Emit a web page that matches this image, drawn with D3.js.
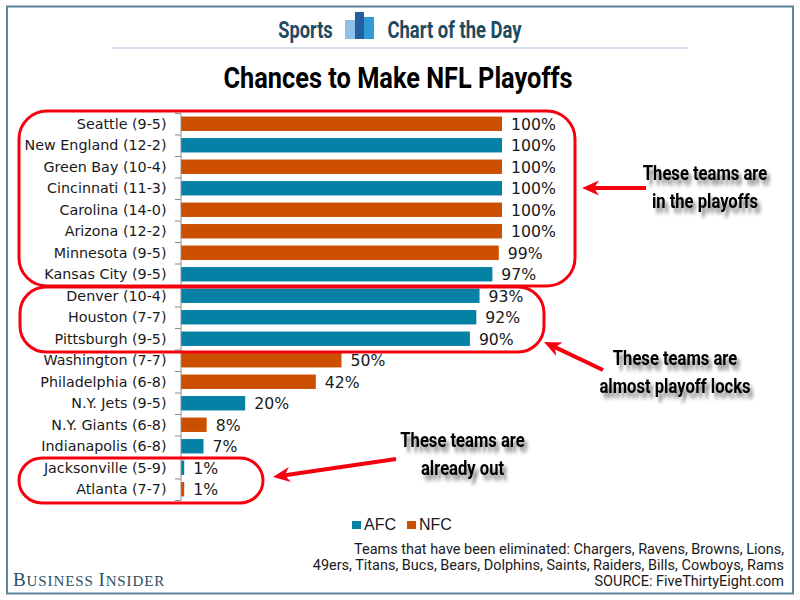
<!DOCTYPE html>
<html><head><meta charset="utf-8">
<script src="https://cdnjs.cloudflare.com/ajax/libs/d3/7.8.5/d3.min.js"></script>
<style>html,body{margin:0;padding:0;background:#fff}svg{display:block}</style></head>
<body><svg id="c" width="800" height="600"></svg>
<script>
const teams=["Seattle (9-5)","New England (12-2)","Green Bay (10-4)","Cincinnati (11-3)","Carolina (14-0)","Arizona (12-2)","Minnesota (9-5)","Kansas City (9-5)","Denver (10-4)","Houston (7-7)","Pittsburgh (9-5)","Washington (7-7)","Philadelphia (6-8)","N.Y. Jets (9-5)","N.Y. Giants (6-8)","Indianapolis (6-8)","Jacksonville (5-9)","Atlanta (7-7)"];
const chances=[100,100,100,100,100,100,99,97,93,92,90,50,42,20,8,7,1,1];
const conferences=["NFC","AFC","NFC","AFC","NFC","NFC","NFC","AFC","AFC","AFC","AFC","NFC","NFC","AFC","NFC","AFC","AFC","NFC"];
const confNames=["AFC","NFC"];
const confColors=["#0481a4","#cc4f00"];
const footnotes=["Teams that have been eliminated: Chargers, Ravens, Browns, Lions,","49ers, Titans, Bucs, Bears, Dolphins, Saints, Raiders, Bills, Cowboys, Rams","SOURCE: FiveThirtyEight.com"];
const svg=d3.select("#c");
const color=d3.scaleOrdinal(confNames,confColors);
const x=d3.scaleLinear([0,100],[181,502]);
const y=d3.scaleBand(teams,[113,500]).paddingInner(0.33).paddingOuter(0.165);
const yT=d3.scaleBand(teams,[113,500]);
const defs=svg.append("defs");
const f=defs.append("filter").attr("id","sh").attr("x","-10%").attr("y","-30%").attr("width","125%").attr("height","170%");
f.append("feDropShadow").attr("dx",4).attr("dy",5).attr("stdDeviation",2.2).attr("flood-color","#000").attr("flood-opacity",0.5);
// frame
svg.append("rect").attr("x",7).attr("y",6.5).attr("width",786).attr("height",587).attr("fill","#fff").attr("stroke","#5b8498").attr("stroke-width",2);
svg.append("line").attr("x1",112).attr("x2",688).attr("y1",48).attr("y2",48).attr("stroke","#a9c1dd").attr("stroke-width",1.2);
// header
function cond(sel,cx,yy,sx){return sel.attr("transform",`translate(${cx},${yy}) scale(${sx},1)`).attr("text-anchor","middle");}
cond(svg.append("text").text("Sports"),305.5,38,0.76).attr("font-family","Roboto").attr("font-weight",700).attr("fill","#1f4a60").attr("font-size",24);
cond(svg.append("text").text("Chart of the Day"),454.5,38,0.77).attr("font-family","Roboto").attr("font-weight",700).attr("fill","#1f4a60").attr("font-size",24);
svg.append("rect").attr("x",345).attr("y",20).attr("width",12).attr("height",19).attr("fill","#8fc0e8");
svg.append("rect").attr("x",360).attr("y",17).attr("width",14).attr("height",22).attr("fill","#2f9ad6");
svg.append("rect").attr("x",355).attr("y",12).attr("width",9).attr("height",27).attr("fill","#24609f");
cond(svg.append("text").text("Chances to Make NFL Playoffs"),398,88,0.875).attr("font-family","Roboto").attr("font-weight",700).attr("fill","#000").attr("font-size",29);
// bars
svg.selectAll("rect.b").data(teams).join("rect").attr("class","b")
 .attr("x",x(0)).attr("y",d=>y(d)).attr("height",y.bandwidth())
 .attr("width",(d,i)=>x(chances[i])-x(0)).attr("fill",(d,i)=>color(conferences[i]));
// axis
const ax=svg.append("g").attr("transform",`translate(180.5,0.2)`).call(d3.axisLeft(yT).tickSize(0).tickPadding(14));
ax.selectAll("text").attr("font-family","DejaVu Sans").attr("font-size",14.3).attr("fill","#1a1a1a");
ax.select(".domain").attr("stroke","#8c8c8c");
svg.selectAll("line.t").data(d3.range(teams.length+1)).join("line").attr("class","t")
 .attr("x1",175).attr("x2",181).attr("y1",i=>113+i*yT.step()+.5).attr("y2",i=>113+i*yT.step()+.5).attr("stroke","#8c8c8c");
// values
svg.selectAll("text.v").data(teams).join("text").attr("class","v").text((d,i)=>chances[i]+"%")
 .attr("x",(d,i)=>x(chances[i])+9).attr("y",d=>yT(d)+yT.step()/2+6).attr("font-family","DejaVu Sans").attr("font-size",15.7).attr("fill","#1a1a1a");
// callouts
const red="#f5000f";
function box(a,b,c,d,r){svg.append("rect").attr("x",a).attr("y",b).attr("width",c-a).attr("height",d-b).attr("rx",r).attr("ry",r).attr("fill","none").attr("stroke",red).attr("stroke-width",3);}
box(19,111,575,286,28);box(20,287,544,352,26);box(19,458,263,503,23);
function arrow(x1,y1,x2,y2){const a=Math.atan2(y2-y1,x2-x1),deg=a*180/Math.PI;
 svg.append("line").attr("x1",x1).attr("y1",y1).attr("x2",x2-12*Math.cos(a)).attr("y2",y2-12*Math.sin(a)).attr("stroke",red).attr("stroke-width",4);
 svg.append("path").attr("d","M0,0L-17,-7.5L-12,0L-17,7.5Z").attr("fill",red).attr("transform",`translate(${x2},${y2}) rotate(${deg})`);}
arrow(646,188,582,188);arrow(603,370,544,342);arrow(396,459,273,477);
function note(lines,cx,yy){lines.forEach((t,i)=>{cond(svg.append("text").text(t),cx,yy+i*27.5,0.83).attr("font-family","Roboto").attr("font-weight",700).attr("font-size",20).attr("fill","#000").attr("filter","url(#sh)");});}
note(["These teams are","in the playoffs"],705,180);
note(["These teams are","almost playoff locks"],675,365);
note(["These teams are","already out"],462.5,447);
// legend
const lg=svg.append("g");
confNames.forEach((n,i)=>{const lx=[352,407][i];
 lg.append("rect").attr("x",lx).attr("y",521).attr("width",9).attr("height",8).attr("fill",color(n));
 lg.append("text").text(n).attr("x",lx+12).attr("y",530).attr("font-family","Liberation Sans").attr("font-size",16).attr("fill","#1a1a1a");});
// footer
footnotes.forEach((t,i)=>svg.append("text").text(t).attr("x",784).attr("y",554+i*16.2).attr("text-anchor","end").attr("font-family","Roboto").attr("font-size",14.48).attr("fill","#1a1a1a"));
const bi=svg.append("text").attr("x",13).attr("y",586).attr("font-family","Liberation Serif").attr("fill","#2b4f63").attr("letter-spacing",0.9);
[["B",19],["USINESS ",15],["I",19],["NSIDER",15]].forEach(p=>bi.append("tspan").text(p[0]).attr("font-size",p[1]));
</script></body></html>
